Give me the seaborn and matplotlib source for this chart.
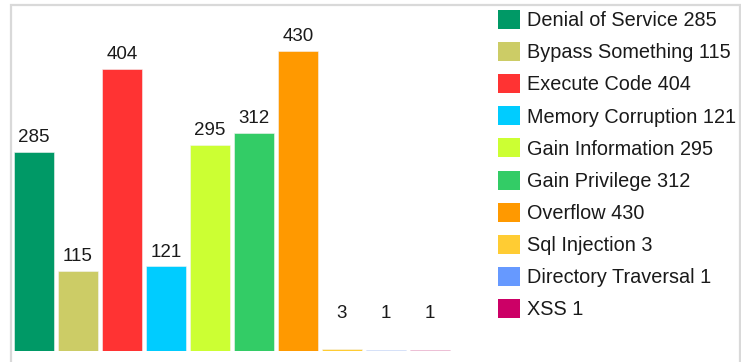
import matplotlib
matplotlib.use("Agg")
import matplotlib.pyplot as plt
from matplotlib.patches import Patch, Rectangle
import seaborn as sns
import pandas as pd

# Vulnerability counts by type
categories = ["Denial of Service", "Bypass Something", "Execute Code",
              "Memory Corruption", "Gain Information", "Gain Privilege",
              "Overflow", "Sql Injection", "Directory Traversal", "XSS"]
counts = [285, 115, 404, 121, 295, 312, 430, 3, 1, 1]
colors = ["#009966", "#CCCC66", "#FF3333", "#00CCFF", "#CCFF33",
          "#33CC66", "#FF9900", "#FFCC33", "#6699FF", "#CC0066"]

sns.set_theme(style="white")
plt.rcParams["font.family"] = ["Liberation Sans", "DejaVu Sans"]

W, H = 741, 362
fig = plt.figure(figsize=(W / 100, H / 100), dpi=100)
fig.patch.set_facecolor("white")

# plot area in pixel terms: left 12, right 490, baseline y=351, top y=6
ax_l, ax_r, ax_b, ax_t = 12, 490, 351, 6
ax = fig.add_axes([ax_l / W, (H - ax_b) / H, (ax_r - ax_l) / W, (ax_b - ax_t) / H])

df = pd.DataFrame({"category": categories, "count": counts})
sns.barplot(data=df, x="category", y="count", hue="category",
            palette=colors, saturation=1, dodge=False, legend=False,
            width=40 / 44, edgecolor="#f4f4f4", linewidth=0.4, ax=ax)

ax.set_xlim(-0.5, -0.5 + (ax_r - ax_l) / 44)
ax.set_ylim(0, 494)
ax.set_axis_off()

# value labels above each bar (small bars keep a minimum label height)
for i, v in enumerate(counts):
    ax.annotate(str(v), xy=(i, max(v, 33)), xytext=(0, 7),
                textcoords="offset points", ha="center", va="baseline",
                fontsize=13.5, color="#1a1a1a")

# legend with value in each entry
handles = [Patch(facecolor=c, edgecolor="none") for c in colors]
labels = [f"{c} {v}" for c, v in zip(categories, counts)]
fig.legend(handles, labels, loc="upper left",
           bbox_to_anchor=(498 / W, (H - 10) / H), frameon=False,
           fontsize=14.3, handlelength=1.1, handleheight=1.1,
           handletextpad=0.35, labelspacing=0.595, borderpad=0,
           borderaxespad=0, labelcolor="#1a1a1a")

# light grey frame around the chart
frame = Rectangle((11 / W, -0.1), (739.5 - 11) / W, 0.1 + (H - 5.5) / H,
                  transform=fig.transFigure, fill=False,
                  edgecolor="#d9d9d9", linewidth=1.6)
fig.patches.append(frame)

fig.savefig("out.png", dpi=100)
